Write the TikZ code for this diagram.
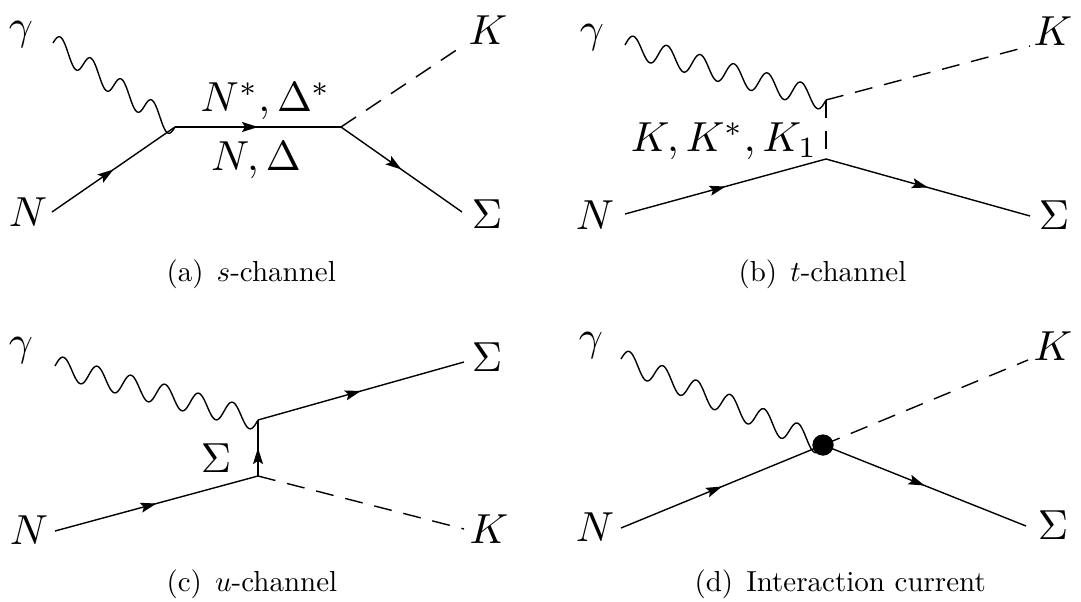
\documentclass[tikz,border=0pt]{standalone}
\usetikzlibrary{calc,decorations.markings,arrows.meta}
\tikzset{
  lbl/.style={scale=4.2, inner sep=0pt},
  subcap/.style={scale=2.9, inner sep=0pt, anchor=base west},
  fermion/.style={line width=1.4pt, postaction={decorate},
    decoration={markings, mark=at position 0.5 with {\arrow{Stealth[length=16pt,width=10pt,inset=3pt]}}}},
  scalar/.style={line width=1.4pt, dash pattern=on 18pt off 12pt},
  photonline/.style={line width=1.4pt},
  blob/.style={circle, fill=black, minimum size=21pt, inner sep=0pt},
}
% wavy photon line from #1 to #2 with #3 periods (vertical oscillation)
\newcommand\drawphoton[3]{%
  \draw[photonline] let \p1=(#1), \p2=(#2) in
    plot[domain=0:1, samples=241, smooth, variable=\t]
      ({\x1+\t*(\x2-\x1)}, {\y1+\t*(\y2-\y1)+11pt*sin(\t*#3*360)});}
\begin{document}
\begin{tikzpicture}[x=1pt,y=-1pt]
\useasboundingbox (0,0) rectangle (1081,602);
% ---------- (a) s-channel ----------
\coordinate (a-g) at (53,43);
\coordinate (a-n) at (52,212);
\coordinate (a-v1) at (175,127);
\coordinate (a-v2) at (341,127);
\coordinate (a-k) at (464,45);
\coordinate (a-s) at (462,212);
\drawphoton{a-g}{a-v1}{4}
\draw[fermion] (a-n) -- (a-v1);
\draw[fermion] (a-v1) -- (a-v2);
\draw[scalar] (a-v2) -- (a-k);
\draw[fermion] (a-v2) -- (a-s);
\node[lbl] (a-lg) at (21,35) {$\gamma$};
\node[lbl] (a-ln) at (28,212) {$N$};
\node[lbl] (a-lk) at (488,30) {$K$};
\node[lbl] (a-ls) at (487,214) {$\Sigma$};
\node[lbl] (a-lup) at (266,101) {$N^*,\Delta^*$};
\node[lbl] (a-ldn) at (256,160) {$N,\Delta$};
\node[subcap] (a-cap) at (166,281) {(a)\hspace{0.45em}$s$-channel};
% ---------- (b) t-channel ----------
\coordinate (b-g) at (625,45);
\coordinate (b-n) at (625,214);
\coordinate (b-vt) at (826,100);
\coordinate (b-vb) at (826,159);
\coordinate (b-k) at (1030,46);
\coordinate (b-s) at (1030,216);
\drawphoton{b-g}{b-vt}{6}
\draw[scalar] (b-vt) -- (b-k);
\draw[line width=1.4pt, dash pattern=on 18pt off 13pt] (b-vt) -- (b-vb);
\draw[fermion] (b-n) -- (b-vb);
\draw[fermion] (b-vb) -- (b-s);
\node[lbl] (b-lg) at (592,38) {$\gamma$};
\node[lbl] (b-ln) at (595,215) {$N$};
\node[lbl] (b-lk) at (1053,31) {$K$};
\node[lbl] (b-ls) at (1054,215) {$\Sigma$};
\node[lbl] (b-lx) at (724,141) {$K,K^*,K_1$};
\node[subcap] (b-cap) at (738,281) {(b)\hspace{0.45em}$t$-channel};
% ---------- (c) u-channel ----------
\coordinate (c-g) at (55,366);
\coordinate (c-n) at (55,531);
\coordinate (c-vt) at (258,420);
\coordinate (c-vb) at (258,476);
\coordinate (c-s) at (464,362);
\coordinate (c-k) at (464,529);
\drawphoton{c-g}{c-vt}{6}
\draw[fermion] (c-vb) -- (c-vt);
\draw[fermion] (c-vt) -- (c-s);
\draw[fermion] (c-n) -- (c-vb);
\draw[scalar] (c-vb) -- (c-k);
\node[lbl] (c-lg) at (21,351) {$\gamma$};
\node[lbl] (c-ln) at (29,530) {$N$};
\node[lbl] (c-ls) at (487,357) {$\Sigma$};
\node[lbl] (c-lk) at (489,529) {$K$};
\node[lbl] (c-lm) at (216,458) {$\Sigma$};
\node[subcap] (c-cap) at (166,591) {(c)\hspace{0.45em}$u$-channel};
% ---------- (d) interaction current ----------
\node[blob] (d-v) at (823,445) {};
\coordinate (d-g) at (621,359);
\coordinate (d-n) at (621,528);
\coordinate (d-k) at (1028,360);
\coordinate (d-s) at (1026,526);
\drawphoton{d-g}{d-v.center}{6}
\draw[fermion] (d-n) -- (d-v.center);
\draw[scalar] (d-v.center) -- (d-k);
\draw[fermion] (d-v.center) -- (d-s);
\node[blob] at (d-v) {};
\node[lbl] (d-lg) at (591,346) {$\gamma$};
\node[lbl] (d-ln) at (595,527) {$N$};
\node[lbl] (d-lk) at (1053,346) {$K$};
\node[lbl] (d-ls) at (1053,525) {$\Sigma$};
\node[subcap] (d-cap) at (694,591) {(d)\hspace{0.45em}Interaction current};
\end{tikzpicture}
\end{document}
